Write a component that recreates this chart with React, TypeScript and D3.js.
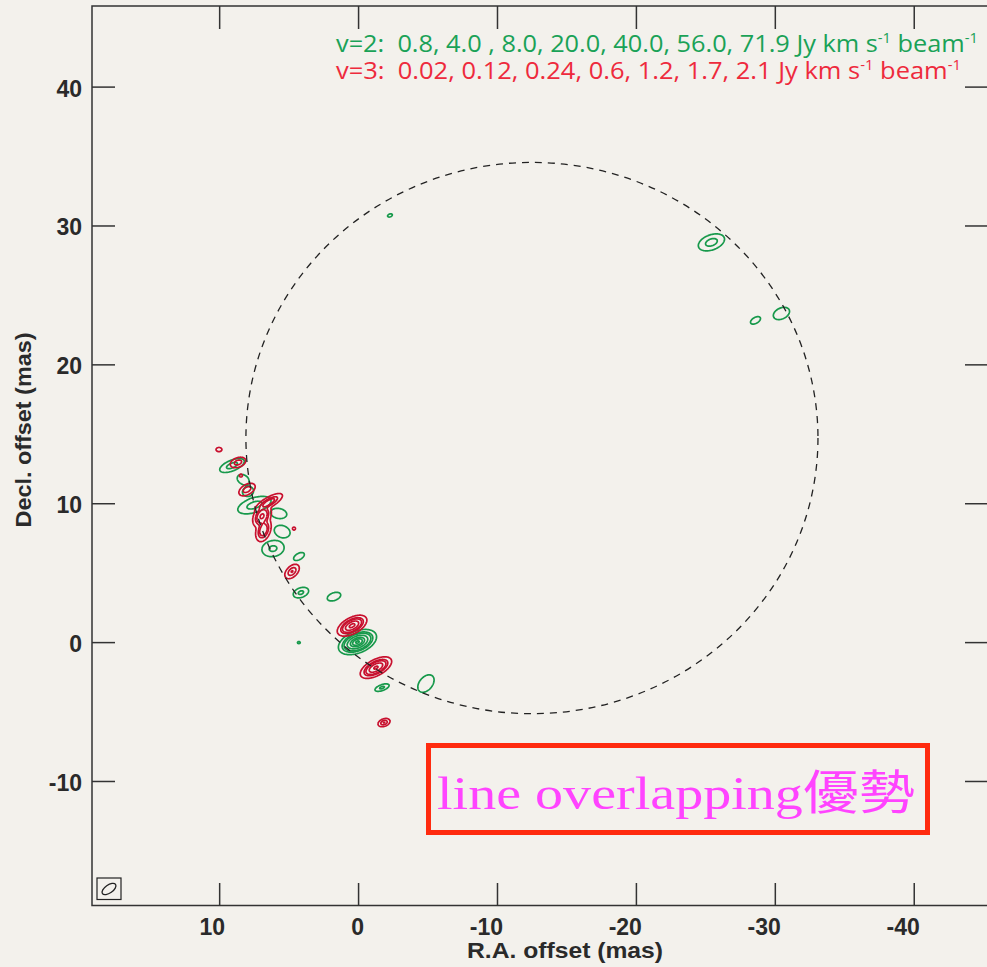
import React, { useMemo } from 'react';
import * as d3 from 'd3';

// contour levels (Jy km s-1 beam-1)
const greenLevels = [0.8, 4.0, 8.0, 20.0, 40.0, 56.0, 71.9];
const redLevels = [0.02, 0.12, 0.24, 0.6, 1.2, 1.7, 2.1];

// maser components: [ra, dec, peak, sigmaMajor, sigmaMinor, angleDeg] (mas)
const greenSpots = [
  [9.11, 12.75, 6, 0.47, 0.19, 22],
  [8.31, 11.74, 2.5, 0.22, 0.3, 60],
  [7.96, 10.88, 2.5, 0.27, 0.22, 20],
  [7.5, 9.9, 6, 0.62, 0.26, 18],
  [5.75, 9.3, 3, 0.22, 0.36, 80],
  [5.5, 8.0, 3, 0.26, 0.36, 70],
  [6.16, 6.77, 5, 0.42, 0.3, 10],
  [4.29, 6.2, 1.5, 0.38, 0.2, 30],
  [4.15, 3.6, 5, 0.3, 0.18, 20],
  [1.77, 3.31, 3, 0.31, 0.17, 20],
  [4.3, 0.0, 1.0, 0.15, 0.12, 0],
  [0.08, 0.04, 75, 0.48, 0.26, 22],
  [-1.69, -3.24, 5, 0.28, 0.11, 20],
  [-4.85, -2.95, 1.2, 0.8, 0.52, 50],
  [-2.26, 30.76, 1.0, 0.27, 0.16, 20],
  [-25.4, 28.82, 6, 0.49, 0.27, 20],
  [-28.57, 23.2, 1.5, 0.35, 0.19, 30],
  [-30.44, 23.7, 1.5, 0.55, 0.35, 25],
];

const redSpots = [
  [10.05, 13.9, 0.04, 0.18, 0.13, 0],
  [8.68, 12.97, 0.2, 0.27, 0.16, 20],
  [8.47, 12.03, 0.03, 0.12, 0.12, 0],
  [8.03, 11.02, 0.2, 0.3, 0.17, 30],
  [6.45, 10.1, 0.4, 0.45, 0.15, 30],
  [6.95, 9.1, 0.7, 0.33, 0.22, 60],
  [6.85, 8.1, 0.5, 0.34, 0.2, 70],
  [4.65, 8.21, 0.03, 0.12, 0.12, 0],
  [4.79, 5.12, 0.25, 0.28, 0.17, 45],
  [0.47, 1.22, 1.4, 0.4, 0.2, 28],
  [-1.25, -1.8, 1.3, 0.43, 0.2, 28],
  [-1.83, -5.76, 0.25, 0.2, 0.12, 20],
];

// ring fitted to the emission
const ring = { ra: -12.48, dec: 14.73, rRa: 20.59, rDec: 19.85 };

const xTicks = [10, 0, -10, -20, -30, -40];
const yTicks = [40, 30, 20, 10, 0, -10];

const W = 987;
const H = 967;
const bg = '#f3f1ec';

const x = d3.scaleLinear().domain([19.19, -45.31]).range([92, 988]);
const y = d3.scaleLinear().domain([45.84, -18.93]).range([6, 905.5]);

// grid for contouring
const gridRa0 = 12;
const gridDec0 = 33;
const step = 0.05;
const nx = Math.ceil((gridRa0 - -33) / step);
const ny = Math.ceil((gridDec0 - -8) / step);

function field(spots: number[][]) {
  const v = new Float64Array(nx * ny);
  spots.forEach(([ra, dec, peak, a, b, ang]) => {
    const t = (ang * Math.PI) / 180;
    const c = Math.cos(t), s = Math.sin(t);
    const ext = 5 * a;
    const i0 = Math.max(0, Math.floor((gridRa0 - (ra + ext)) / step));
    const i1 = Math.min(nx - 1, Math.ceil((gridRa0 - (ra - ext)) / step));
    const j0 = Math.max(0, Math.floor((gridDec0 - (dec + ext)) / step));
    const j1 = Math.min(ny - 1, Math.ceil((gridDec0 - (dec - ext)) / step));
    for (let j = j0; j <= j1; j++) {
      const dy = gridDec0 - j * step - dec;
      for (let i = i0; i <= i1; i++) {
        const dx = -(gridRa0 - i * step - ra); // screen direction
        const u = dx * c + dy * s;
        const w = -dx * s + dy * c;
        v[i + j * nx] += peak * Math.exp(-(u * u) / (2 * a * a) - (w * w) / (2 * b * b));
      }
    }
  });
  return v;
}

const proj = d3.geoTransform({
  point(px: number, py: number) {
    (this as any).stream.point(x(gridRa0 - (px - 0.5) * step), y(gridDec0 - (py - 0.5) * step));
  },
});
const path = d3.geoPath(proj);

function Sup({ children }: { children: string }) {
  return (
    <tspan fontSize={14} dy={-9}>
      {children}
    </tspan>
  );
}

export default function App() {
  const contours = useMemo(() => {
    const gen = d3.contours().size([nx, ny]);
    const g = gen.thresholds(greenLevels)(Array.from(field(greenSpots)));
    const r = gen.thresholds(redLevels)(Array.from(field(redSpots)));
    return { g, r };
  }, []);

  const labelFont = '"Liberation Sans", Arial, sans-serif';
  const rx = Math.abs(x(ring.rRa) - x(0));
  const ry = Math.abs(y(ring.rDec) - y(0));

  return (
    <svg width={W} height={H} style={{ position: 'absolute', left: 0, top: 0, display: 'block' }}>
      <rect width={W} height={H} fill={bg} />

      {/* contours */}
      <g fill="none" strokeWidth={1.7} strokeLinejoin="round">
        {contours.g.map((c, i) => (
          <path key={'g' + i} d={path(c as any) || ''} stroke="#17994b" />
        ))}
        {contours.r.map((c, i) => (
          <path key={'r' + i} d={path(c as any) || ''} stroke="#c8102e" />
        ))}
      </g>

      {/* ring */}
      <ellipse cx={x(ring.ra)} cy={y(ring.dec)} rx={rx} ry={ry} fill="none" stroke="#222" strokeWidth={1.3} strokeDasharray="7,6" />

      {/* frame */}
      <rect x={92} y={6} width={896} height={899.5} fill="none" stroke="#333" strokeWidth={1.5} />
      <g stroke="#333" strokeWidth={1.5}>
        {xTicks.map((t) => (
          <g key={'xt' + t}>
            <line x1={x(t)} x2={x(t)} y1={905.5} y2={883} />
            <line x1={x(t)} x2={x(t)} y1={6} y2={29} />
          </g>
        ))}
        {yTicks.map((t) => (
          <g key={'yt' + t}>
            <line x1={92} x2={115} y1={y(t)} y2={y(t)} />
            <line x1={988} x2={965} y1={y(t)} y2={y(t)} />
          </g>
        ))}
      </g>
      <g fontFamily={labelFont} fontWeight="bold" fontSize={23} fill="#2a2a2a">
        {xTicks.map((t) => (
          <text key={'xl' + t} x={x(t) + 5.5} y={935} textAnchor="end">
            {t}
          </text>
        ))}
        {yTicks.map((t) => (
          <text key={'yl' + t} x={82} y={y(t) + 9.5} textAnchor="end">
            {t}
          </text>
        ))}
      </g>
      <g fontFamily={labelFont} fontWeight="bold" fontSize={22} fill="#2a2a2a">
        <text x={565} y={958} textAnchor="middle" textLength={196} lengthAdjust="spacingAndGlyphs">
          R.A. offset (mas)
        </text>
        <text transform="translate(31,430) rotate(-90)" textAnchor="middle" textLength={195} lengthAdjust="spacingAndGlyphs">
          Decl. offset (mas)
        </text>
      </g>

      {/* level legend */}
      <g fontFamily='"Open Sans", sans-serif' fontSize={24}>
        <text x={336} y={52} fill="#1aa257" textLength={642} lengthAdjust="spacingAndGlyphs">
          {'v=2:\u00a0\u00a00.8, 4.0 , 8.0, 20.0, 40.0, 56.0, 71.9 Jy km s'}
          <Sup>-1</Sup>
          <tspan dy={9}> beam</tspan>
          <Sup>-1</Sup>
        </text>
        <text x={336} y={79} fill="#ee2a3c" textLength={625} lengthAdjust="spacingAndGlyphs">
          {'v=3:\u00a0\u00a00.02, 0.12, 0.24, 0.6, 1.2, 1.7, 2.1 Jy km s'}
          <Sup>-1</Sup>
          <tspan dy={9}> beam</tspan>
          <Sup>-1</Sup>
        </text>
      </g>

      {/* beam */}
      <rect x={97} y={878} width={24} height={21.5} fill="none" stroke="#222" strokeWidth={1.2} />
      <ellipse cx={109} cy={889} rx={8} ry={4} transform="rotate(-35,109,889)" fill="none" stroke="#222" strokeWidth={1.3} />

      {/* annotation */}
      <rect x={428.5} y={745.5} width={499} height={87} fill="none" stroke="#ff2b0f" strokeWidth={5} />
      <text
        x={437}
        y={809}
        fontFamily='"Liberation Serif", "Noto Sans CJK TC", serif'
        fontSize={47}
        fill="#ff44ff"
        textLength={478}
        lengthAdjust="spacingAndGlyphs"
      >
        line overlapping優勢
      </text>
    </svg>
  );
}
